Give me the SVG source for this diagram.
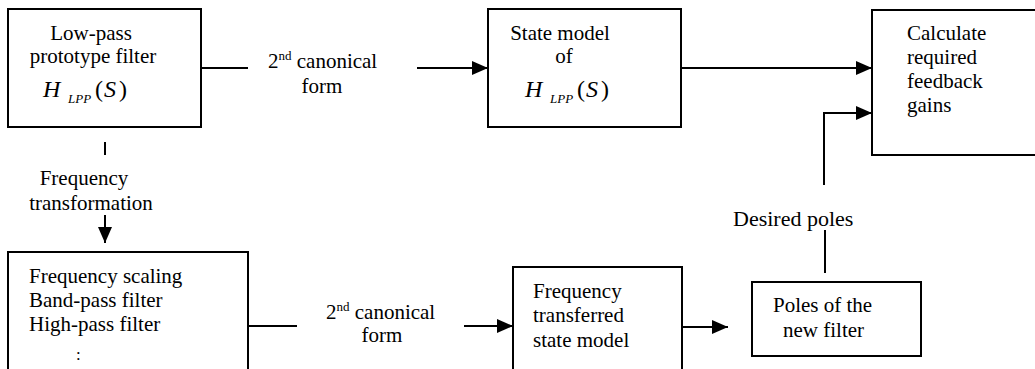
<svg xmlns="http://www.w3.org/2000/svg" width="1035" height="369" viewBox="0 0 1035 369">
  <style>
    .box { fill: #fff; stroke: #000; stroke-width: 2; }
    .wire { fill: none; stroke: #000; stroke-width: 2; }
    text { font-family: "Liberation Serif", "Times New Roman", Tinos, "DejaVu Serif", serif; font-size: 21px; fill: #000; }
    .mid { text-anchor: middle; }
    .it { font-style: italic; }
    .big { font-size: 24px; }
    .sub { font-size: 13px; font-style: italic; }
    .sup { font-size: 13px; }
    .lbl { font-size: 22px; }
  </style>
  <defs>
    <marker id="arrow" viewBox="0 0 16 16" refX="16" refY="8" markerWidth="16" markerHeight="16" markerUnits="userSpaceOnUse" orient="auto">
      <path d="M0,1 L16,8 L0,15 Z" fill="#000"/>
    </marker>
  </defs>

  <g id="connectors">
    <line class="wire" x1="201" y1="68" x2="248" y2="68"/>
    <line class="wire" x1="417" y1="68" x2="488" y2="68" marker-end="url(#arrow)"/>
    <line class="wire" x1="681" y1="68" x2="872" y2="68" marker-end="url(#arrow)"/>
    <polyline class="wire" points="824,185 824,113 872,113" marker-end="url(#arrow)"/>
    <line class="wire" x1="825" y1="230" x2="825" y2="273"/>
    <line class="wire" x1="105" y1="142" x2="105" y2="155"/>
    <line class="wire" x1="105" y1="215" x2="105" y2="243" marker-end="url(#arrow)"/>
    <line class="wire" x1="248" y1="326" x2="297" y2="326"/>
    <line class="wire" x1="464" y1="326" x2="513" y2="326" marker-end="url(#arrow)"/>
    <line class="wire" x1="682" y1="327" x2="728" y2="327" marker-end="url(#arrow)"/>
  </g>

  <g id="labels">
    <text x="268" y="68">2<tspan class="sup" dy="-8">nd</tspan><tspan dy="8"> canonical</tspan></text>
    <text class="mid" x="322" y="93">form</text>
    <text x="326" y="319">2<tspan class="sup" dy="-8">nd</tspan><tspan dy="8"> canonical</tspan></text>
    <text class="mid" x="382" y="342">form</text>
    <text class="mid" x="84" y="185">Frequency</text>
    <text class="mid" x="91" y="210">transformation</text>
    <text class="lbl" x="733" y="226">Desired poles</text>
  </g>

  <g id="lowpass-prototype">
    <rect class="box" x="8" y="9" width="193" height="118"/>
    <text class="mid" x="91" y="40">Low-pass</text>
    <text class="mid" x="93" y="63">prototype filter</text>
    <text class="big it" x="43" y="97">H</text>
    <text class="sub" x="68" y="103">LPP</text>
    <text class="big" x="95" y="97">(</text>
    <text class="big it" x="104" y="97">S</text>
    <text class="big" x="119" y="97">)</text>
  </g>

  <g id="state-model">
    <rect class="box" x="488" y="9" width="193" height="118"/>
    <text class="mid" x="560" y="40">State model</text>
    <text class="mid" x="564" y="63">of</text>
    <text class="big it" x="525" y="97">H</text>
    <text class="sub" x="550" y="103">LPP</text>
    <text class="big" x="577" y="97">(</text>
    <text class="big it" x="586" y="97">S</text>
    <text class="big" x="601" y="97">)</text>
  </g>

  <g id="feedback-gains">
    <rect class="box" x="872" y="10" width="180" height="145"/>
    <text x="907" y="40">Calculate</text>
    <text x="907" y="64">required</text>
    <text x="907" y="88">feedback</text>
    <text x="907" y="112">gains</text>
  </g>

  <g id="transformations">
    <rect class="box" x="8" y="252" width="240" height="140"/>
    <text x="29" y="283">Frequency scaling</text>
    <text x="29" y="307">Band-pass filter</text>
    <text x="29" y="331">High-pass filter</text>
    <text x="76" y="360" style="font-size:17px">:</text>
  </g>

  <g id="transferred-model">
    <rect class="box" x="513" y="267" width="169" height="120"/>
    <text x="533" y="298">Frequency</text>
    <text x="533" y="322">transferred</text>
    <text x="533" y="347">state model</text>
  </g>

  <g id="new-poles">
    <rect class="box" x="752" y="282" width="169" height="74"/>
    <text x="773" y="312">Poles of the</text>
    <text x="783" y="337">new filter</text>
  </g>
</svg>
